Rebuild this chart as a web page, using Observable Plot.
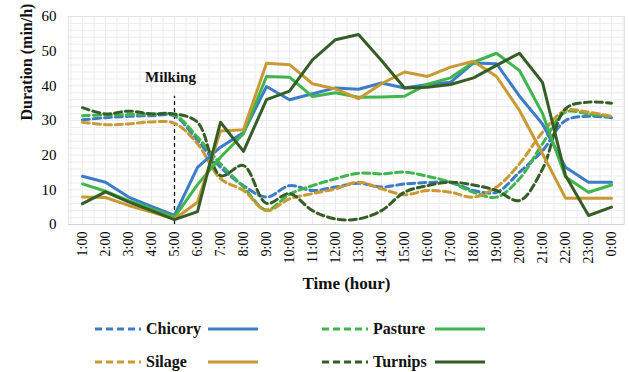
<!DOCTYPE html>
<html>
<head>
<meta charset="utf-8">
<script src="https://cdn.jsdelivr.net/npm/d3@7"></script>
<script src="https://cdn.jsdelivr.net/npm/@observablehq/plot@0.6"></script>
<style>
  body { margin: 0; background: #fff; }
  #wrap { position: relative; width: 629px; height: 372px; font-family: "Liberation Serif", "Times New Roman", serif; }
  .leg { position: absolute; display: flex; align-items: center; font-weight: bold; font-size: 16px; color: #111; }
  .leg svg { display: block; }
</style>
</head>
<body>
<div id="wrap"></div>
<script>
const hours = ["1:00","2:00","3:00","4:00","5:00","6:00","7:00","8:00","9:00","10:00","11:00","12:00",
  "13:00","14:00","15:00","16:00","17:00","18:00","19:00","20:00","21:00","22:00","23:00","0:00"];

// solid lines
const chicorySolid = [13.9,12.2,7.9,5.2,2.6,16.5,22.3,26.5,39.8,36,37.7,39.4,39,40.8,39.4,40.4,41,46.6,46.4,37,29,16.5,12.2,12.2];
const pastureSolid = [11.7,9.6,6.9,4.6,2.1,11.5,19.4,26.2,42.7,42.5,36.9,38,36.7,36.8,37,40.5,42.3,46.8,49.4,44.4,32,13.7,9.3,11.4];
const silageSolid  = [7.9,7.8,5.5,3.6,1.6,6.4,27,27.3,46.5,46.1,40.6,39.1,36.3,40.6,44,42.7,45.4,47.1,42.7,32.9,20.4,7.6,7.6,7.6];
const turnipsSolid = [6,9.4,6.5,4,1.4,3.7,29.5,21.1,36,38.5,47.5,53.3,54.8,47.3,39.4,39.6,40.4,42.3,45.9,49.4,41,14.1,2.6,5];
// dashed lines
const chicoryDash  = [30.2,30.8,31.2,31.4,31.3,24.2,16.5,11.2,7.9,11.2,9.8,10.8,11.9,10.8,11.7,12.1,12.2,9.8,9.3,15.1,21.3,30,31.2,30.8];
const pastureDash  = [31.4,31.6,31.7,31.9,31.6,25.2,17.5,10.8,4.2,8.7,11.2,13.2,14.8,14.6,15.1,13.9,12.2,9.3,7.9,13.2,23.3,32.4,31.9,31];
const silageDash   = [29.5,28.8,29,29.6,29.2,23.3,13.2,9.8,4,7.4,8.9,10.3,12.2,10.3,8.6,9.8,9.3,7.9,10.8,17.5,26.6,32.9,32.4,31.2];
const turnipsDash  = [33.7,31.9,32.7,31.9,31.9,29.5,14.1,17,6.1,8.9,4,1.6,1.6,4,9.3,11.2,12.2,11.4,9.8,6.9,16,33.4,35.3,35];

const seriesNames = ["Chicory","Pasture","Silage","Turnips"];
const colors = {Chicory:"#3d7cc7", Pasture:"#3fb54c", Silage:"#c99a34", Turnips:"#355e27"};
const solids = {Chicory:chicorySolid, Pasture:pastureSolid, Silage:silageSolid, Turnips:turnipsSolid};
const dashes = {Chicory:chicoryDash, Pasture:pastureDash, Silage:silageDash, Turnips:turnipsDash};

const yTicks = [0,10,20,30,40,50,60];
const milkingHour = "5:00";
const milkingTop = 37;

function rows(obj) {
  const out = [];
  for (const s of seriesNames) obj[s].forEach((v,i) => out.push({series:s, hour:hours[i], value:v}));
  return out;
}
const solidRows = rows(solids);
const dashRows = rows(dashes);

const step = (629 - 68 - 5) / hours.length;

const chart = Plot.plot({
  width: 629,
  height: 300,
  marginTop: 16,
  marginBottom: 76,
  marginLeft: 68,
  marginRight: 5,
  style: {fontFamily: "'Liberation Serif', 'Times New Roman', serif", background: "#fff", overflow: "visible"},
  x: {type: "point", domain: hours, padding: 0.5},
  y: {domain: [0, 60]},
  color: {domain: seriesNames, range: seriesNames.map(s => colors[s])},
  marks: [
    Plot.ruleY(d3.range(0, 61, 2), {stroke: "#ececec", strokeWidth: 1}),
    Plot.ruleX(hours, {stroke: "#ececec", strokeWidth: 1}),
    Plot.ruleX(hours, {stroke: "#ececec", strokeWidth: 1, dx: step / 2}),
    Plot.ruleX(hours.slice(0,1), {stroke: "#ececec", strokeWidth: 1, dx: -step / 2}),
    Plot.frame({stroke: "#e2e2e2"}),
    Plot.ruleY([0], {stroke: "#d0d0d0"}),
    Plot.axisY({ticks: yTicks, tickSize: 0, tickPadding: 12, fontSize: 15, label: null}),
    Plot.axisX({tickSize: 0, tickPadding: 7, tickRotate: -90, fontSize: 14, label: null}),
    Plot.ruleX([milkingHour], {y1: 0, y2: milkingTop, stroke: "#111", strokeWidth: 1.3, strokeDasharray: "4,3"}),
    Plot.text(["Milking"], {x: () => milkingHour, y: () => 42.4, dx: -4, fontWeight: "bold", fontSize: 15, fill: "#111"}),
    Plot.line(dashRows, {x: "hour", y: "value", z: "series", stroke: d => d.series, strokeWidth: 3, strokeDasharray: "7,4", curve: "catmull-rom"}),
    Plot.line(solidRows, {x: "hour", y: "value", z: "series", stroke: d => d.series, strokeWidth: 3}),
    Plot.text(["Time (hour)"], {frameAnchor: "bottom", dy: 64, fontWeight: "bold", fontSize: 17, fill: "#111"}),
    Plot.text(["Duration (min/h)"], {frameAnchor: "left", dx: -42, rotate: -90, fontWeight: "bold", fontSize: 16, fill: "#111"})
  ]
});

const wrap = document.getElementById("wrap");
wrap.appendChild(chart);

function sample(color, dashed, w) {
  return `<svg width="${w}" height="8"><line x1="0" y1="4" x2="${w}" y2="4" stroke="${color}" stroke-width="3" ${dashed ? 'stroke-dasharray="7,4"' : ''}/></svg>`;
}
const legendItems = [
  {name: "Chicory", left: 95, top: 329},
  {name: "Pasture", left: 322, top: 329},
  {name: "Silage", left: 95, top: 362},
  {name: "Turnips", left: 322, top: 362}
];
for (const it of legendItems) {
  const d = document.createElement("div");
  d.className = "leg";
  d.style.left = it.left + "px";
  d.style.top = (it.top - 10) + "px";
  d.style.height = "20px";
  const c = colors[it.name];
  d.innerHTML = sample(c, true, 46) +
    `<span style="display:inline-block;width:${it.name === "Silage" ? 62 : 62}px;padding-left:5px">${it.name}</span>` +
    sample(c, false, 50);
  wrap.appendChild(d);
}
</script>
</body>
</html>
